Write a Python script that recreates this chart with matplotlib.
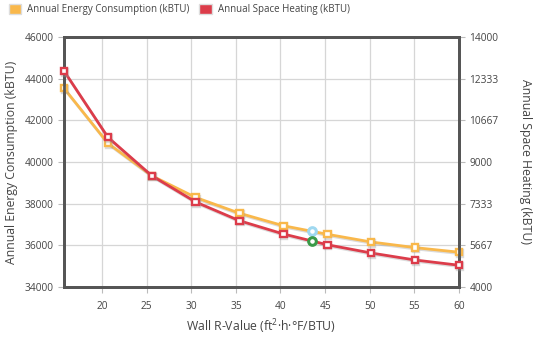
import matplotlib
matplotlib.use("Agg")
from matplotlib import pyplot as plt
from matplotlib import patheffects as pe
from matplotlib.patches import Patch

plt.rcParams['font.family'] = ['Open Sans', 'DejaVu Sans']
plt.rcParams['mathtext.default'] = 'regular'

# wall R-value vs. annual loads
r_values = [15.74, 20.66, 25.58, 30.49, 35.41, 40.33, 45.25, 50.16, 55.08, 60.0]
energy_kbtu = [43540, 40900, 39340, 38300, 37540, 36940, 36530, 36160, 35890, 35670]
heating_kbtu = [12640, 9990, 8450, 7400, 6650, 6120, 5690, 5360, 5080, 4870]

# highlighted (hover) point
hover_r = 43.5
hover_energy = 36700
hover_heating = 5850

right_ticks = [4000, 5667, 7333, 9000, 10667, 12333, 14000]

orange = '#f9b84b'
red = '#dc3c4a'
frame = '#555555'
text_col = '#444444'

fig = plt.figure(figsize=(5.36, 3.40), dpi=100)
ax = fig.add_axes([0.1194, 0.1559, 0.7369, 0.7353])
ax2 = ax.twinx()

shadow = [pe.SimpleLineShadow(offset=(0.6, -1.0), shadow_color='#999999', alpha=0.35), pe.Normal()]

ax.plot(r_values, energy_kbtu, color=orange, lw=2, marker='s', ms=4.6, mfc='white',
        mec=orange, mew=1.7, zorder=3, path_effects=shadow, clip_on=False)
ax2.plot(r_values, heating_kbtu, color=red, lw=2, marker='s', ms=4.6, mfc='white',
         mec=red, mew=1.7, zorder=3, path_effects=shadow, clip_on=False)
ax.plot([hover_r], [hover_energy], marker='o', ms=5.5, mfc='white', mec='#9fd8f0', mew=2.2,
        zorder=4, clip_on=False)
ax2.plot([hover_r], [hover_heating], marker='o', ms=5.5, mfc='white', mec='#3a9a48', mew=2.2,
         zorder=4, clip_on=False)

ax.set_xlim(15.74, 60)
ax.set_ylim(34000, 46000)
ax2.set_ylim(4000, 14000)
ax.set_xticks([20, 25, 30, 35, 40, 45, 50, 55, 60])
ax.set_yticks([34000, 36000, 38000, 40000, 42000, 44000, 46000])
ax2.set_yticks(right_ticks)

ax.grid(True, color='#d6d6d6', lw=0.9)
ax.set_axisbelow(True)

for a in (ax, ax2):
    for s in a.spines.values():
        s.set_color(frame)
        s.set_linewidth(2)
    a.tick_params(colors='#bbbbbb', labelcolor=text_col, labelsize=7.3, length=4, width=0.8)
ax.tick_params(axis='x', pad=6)

ax.set_xlabel('Wall R-Value (ft$^2$·h·°F/BTU)', fontsize=8.8, color=text_col, labelpad=4)
ax.set_ylabel('Annual Energy Consumption (kBTU)', fontsize=8.8, color=text_col, labelpad=5)
ax2.set_ylabel('Annual Space Heating (kBTU)', fontsize=8.8, color=text_col, rotation=270,
               labelpad=24)

handles = [Patch(facecolor=orange, edgecolor='#dddddd', lw=1),
           Patch(facecolor=red, edgecolor='#dddddd', lw=1)]
fig.legend(handles, ['Annual Energy Consumption (kBTU)', 'Annual Space Heating (kBTU)'],
           loc='upper left', bbox_to_anchor=(0.0, 1.015), ncol=2, frameon=False,
           fontsize=7, handlelength=1.3, handleheight=1.3, columnspacing=1.0,
           handletextpad=0.6, labelcolor=text_col)

fig.savefig('out.png', dpi=100)
plt.close(fig)
